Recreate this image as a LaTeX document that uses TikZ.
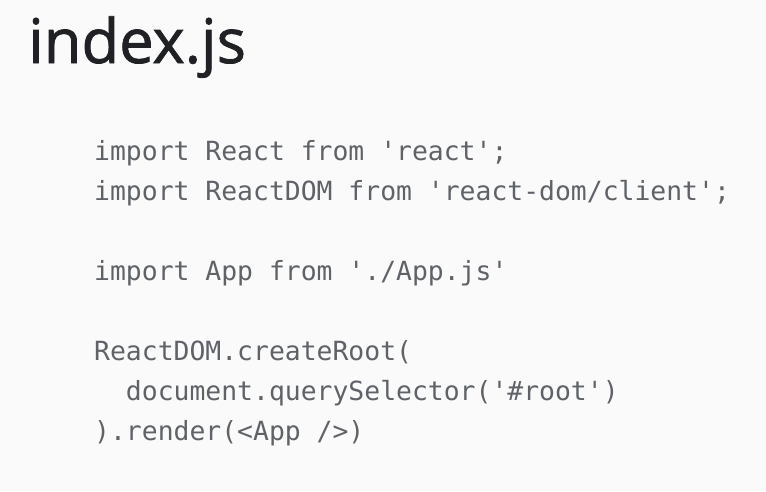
\documentclass[tikz,border=0pt]{standalone}
\usepackage{fontspec}
\setmainfont{Open Sans}
\newfontfamily\titlefont[FakeBold=1.3]{Open Sans}
\newfontfamily\codefont{DejaVu Sans Mono}
\definecolor{bgcol}{HTML}{FAFAFA}
\definecolor{titlecol}{HTML}{202124}
\definecolor{codecol}{HTML}{5F6368}
\begin{document}
\begin{tikzpicture}[x=1pt,y=-1pt,
  titletext/.style={anchor=base west,inner sep=0pt,text=titlecol,font=\titlefont\fontsize{61.5}{64}\selectfont},
  codeline/.style={anchor=base west,inner sep=0pt,text=codecol,font=\codefont\fontsize{26.4}{30}\selectfont}]
\fill[bgcol] (0,0) rectangle (766,491);
\useasboundingbox (0,0) rectangle (766,491);
\node[titletext] (title) at (28,63) {index.js};
\node[codeline] (l1) at (94,160) {import React from 'react';};
\node[codeline] (l2) at (94,200) {import ReactDOM from 'react-dom/client';};
\node[codeline] (l3) at (94,280) {import App from './App.js'};
\node[codeline] (l4) at (94,360) {ReactDOM.createRoot(};
\node[codeline] (l5) at (94,400) {\ \ document.querySelector('\#root')};
\node[codeline] (l6) at (94,440) {).render(<App />)};
\end{tikzpicture}
\end{document}
